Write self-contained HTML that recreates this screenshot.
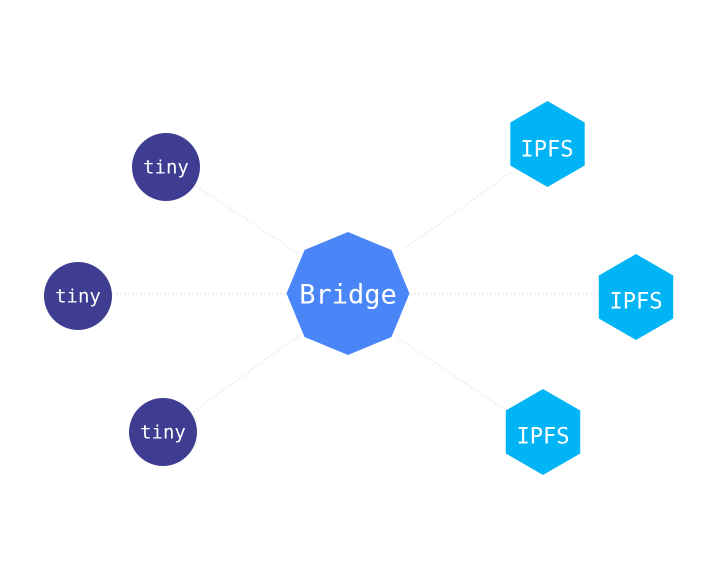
<!DOCTYPE html>
<html><head><meta charset="utf-8"><style>
html,body{margin:0;padding:0;background:#fff;}
svg{display:block;}
text{font-family:"DejaVu Sans Mono","Liberation Mono",monospace;fill:#fff;text-anchor:middle;dominant-baseline:central;}
</style></head><body>
<svg width="720" height="564" viewBox="0 0 720 564" xmlns="http://www.w3.org/2000/svg">
<g stroke="#f1f1f1" stroke-width="2.5" stroke-dasharray="2 2" fill="none">
<line x1="196" y1="186" x2="300" y2="255"/>
<line x1="112" y1="294" x2="286" y2="294"/>
<line x1="193" y1="412" x2="300" y2="335"/>
<line x1="405" y1="248" x2="512" y2="172"/>
<line x1="410" y1="294" x2="598" y2="294"/>
<line x1="398" y1="338" x2="508" y2="412"/>
</g>
<circle cx="166" cy="167" r="34" fill="#3f3d91"/>
<text x="166" y="167.5" font-size="19">tiny</text>
<circle cx="78" cy="296" r="34" fill="#3f3d91"/>
<text x="78" y="296.5" font-size="19">tiny</text>
<circle cx="163" cy="432" r="34" fill="#3f3d91"/>
<text x="163" y="432.5" font-size="19">tiny</text>
<polygon points="348,232 391.5,250 409.5,293.5 391.5,337 348,355 304.5,337 286.5,293.5 304.5,250" fill="#4a86f7"/>
<text x="348" y="295" font-size="27">Bridge</text>
<polygon points="547.5,101 584.7,122.5 584.7,165.5 547.5,187 510.3,165.5 510.3,122.5" fill="#00b4f6"/>
<text x="547" y="150" font-size="22">IPFS</text>
<polygon points="636,254 673.2,275.5 673.2,318.5 636,340 598.8,318.5 598.8,275.5" fill="#00b4f6"/>
<text x="636" y="302" font-size="22">IPFS</text>
<polygon points="543,389 580.2,410.5 580.2,453.5 543,475 505.8,453.5 505.8,410.5" fill="#00b4f6"/>
<text x="543" y="437" font-size="22">IPFS</text>
</svg>
</body></html>
